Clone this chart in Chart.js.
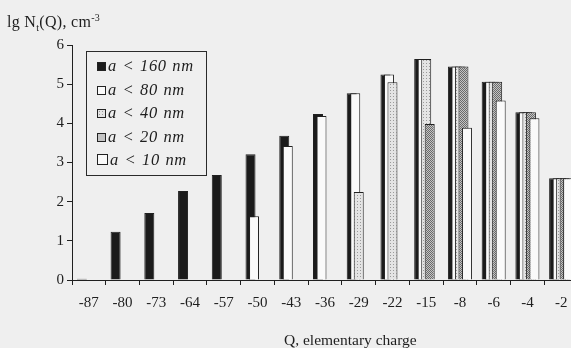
<!DOCTYPE html>
<html>
<head>
<meta charset="utf-8">
<script src="https://cdn.jsdelivr.net/npm/chart.js@4/dist/chart.umd.min.js"></script>
<style>
  html, body { margin: 0; padding: 0; background: #efefef; overflow: hidden; width: 571px; height: 348px; }
  #wrap { position: relative; width: 571px; height: 348px; overflow: hidden; }
  canvas { position: absolute; left: 0; top: 0; }
  .txt { position: absolute; font-family: 'Liberation Serif', 'Times New Roman', serif; color: #1e1e1e; white-space: nowrap; }
  #ytitle { left: 7px; top: 13px; font-size: 16px; line-height: 17px; letter-spacing: 0.3px; }
  #ytitle sup { font-size: 10px; position: relative; top: -4px; vertical-align: top; }
  #ytitle sub { font-size: 10px; }
  #xtitle { left: 284px; top: 331px; font-size: 15.5px; line-height: 17px; }
  #legend { position: absolute; left: 86px; top: 51px; width: 119px; height: 123px; border: 1px solid #2a2a2a; }
  .row { position: absolute; left: 10px; height: 20px; line-height: 20px; font-family: 'Liberation Serif', 'Times New Roman', serif; font-style: italic; font-size: 16.5px; word-spacing: 1px; letter-spacing: 0.6px; color: #1e1e1e; white-space: nowrap; }
  .sw { display: inline-block; width: 9px; height: 9px; border: 1px solid #222; box-sizing: border-box; margin-right: 2px; vertical-align: 0px; }
</style>
</head>
<body>
<div id="wrap">
  <canvas id="c" width="578" height="348" style="width:578px;height:348px"></canvas>
  <div id="ytitle" class="txt">lg N<sub>t</sub>(Q), cm<sup>-3</sup></div>
  <div id="xtitle" class="txt">Q, elementary charge</div>
  <div id="legend"></div>
</div>
<script>
// ---- data ----
const categories = ['-87','-80','-73','-64','-57','-50','-43','-36','-29','-22','-15','-8','-6','-4','-2'];
const seriesNames = ['a < 160 nm','a < 80 nm','a < 40 nm','a < 20 nm','a < 10 nm'];
const s160 = [0.03, 1.23, 1.71, 2.27, 2.68, 3.21, 3.68, 4.24, 4.77, 5.25, 5.64, 5.45, 5.06, 4.28, 2.6];
const s80  = [0, 0, 0, 0, 0, 1.63, 3.42, 4.19, 4.77, 5.25, 5.64, 5.45, 5.06, 4.28, 2.6];
const s40  = [0, 0, 0, 0, 0, 0, 0, 0, 2.25, 5.05, 5.64, 5.45, 5.06, 4.28, 2.6];
const s20  = [0, 0, 0, 0, 0, 0, 0, 0, 0, 0, 3.98, 5.45, 5.06, 4.28, 2.6];
const s10  = [0, 0, 0, 0, 0, 0, 0, 0, 0, 0, 0, 3.89, 4.58, 4.13, 2.6];
const yTicks = [0, 1, 2, 3, 4, 5, 6];

// ---- styles ----
function pattern(bg, dot, size, cells) {
  const c = document.createElement('canvas');
  c.width = c.height = size;
  const x = c.getContext('2d');
  x.fillStyle = bg; x.fillRect(0, 0, size, size);
  x.fillStyle = dot;
  cells.forEach(p => x.fillRect(p[0], p[1], 1, 1));
  return c;
}
const pLight = pattern('#e4e4e4', '#9a9a9a', 3, [[0,0]]);
const pDark = pattern('#c4c4c4', '#6a6a6a', 2, [[0,0],[1,1]]);
const ctx = document.getElementById('c').getContext('2d');
const fills = [
  '#1b1b1b',
  '#fafafa',
  ctx.createPattern(pLight, 'repeat'),
  ctx.createPattern(pDark, 'repeat'),
  '#fafafa'
];
const values = [s160, s80, s40, s20, s10];

const FONT = "'Liberation Serif', 'Times New Roman', serif";

const drawOrder = {
  id: 'drawOrder',
  beforeDatasetsDraw(chart) {
    const a = chart.chartArea, c = chart.ctx;
    c.save();
    c.beginPath();
    c.rect(a.left - 2, a.top - 2, a.right - a.left + 4, a.bottom - a.top + 2);
    c.clip();
    chart.getSortedVisibleDatasetMetas().forEach(m => m.controller.draw());
    c.restore();
    return false;
  }
};

new Chart(ctx, {
  type: 'bar',
  data: {
    labels: categories,
    datasets: values.map((v, i) => ({
      label: seriesNames[i],
      data: v,
      backgroundColor: fills[i],
      borderColor: '#202020',
      borderWidth: 1,
      categoryPercentage: 0.52,
      barPercentage: 2.85
    }))
  },
  options: {
    responsive: false,
    devicePixelRatio: 1,
    animation: false,
    layout: { padding: { left: 0, right: 0, top: 45, bottom: 0 } },
    plugins: { legend: { display: false }, tooltip: { enabled: false } },
    scales: {
      x: {
        offset: true,
        grid: { display: true, drawOnChartArea: false, drawTicks: true, tickLength: 5, color: '#202020', offset: true },
        border: { display: true, color: '#202020', width: 1 },
        ticks: { autoSkip: false, maxRotation: 0, minRotation: 0, padding: 9, color: '#1e1e1e', font: { family: FONT, size: 15 } },
        afterFit: s => { s.height = 68; }
      },
      y: {
        min: 0, max: 6,
        afterBuildTicks: s => { s.ticks = yTicks.map(v => ({ value: v })); },
        grid: { display: true, drawOnChartArea: false, drawTicks: true, tickLength: 5, color: '#202020' },
        border: { display: true, color: '#202020', width: 1 },
        ticks: { padding: 3, color: '#1e1e1e', font: { family: FONT, size: 15 } },
        afterFit: s => { s.width = 72; }
      }
    }
  },
  plugins: [drawOrder]
});

// ---- legend (HTML) ----
const swStyles = [
  'background:#1b1b1b;',
  'background:#fafafa;',
  'background-color:#e4e4e4;background-image:radial-gradient(#9a9a9a 35%, transparent 36%);background-size:3px 3px;',
  'background-color:#c4c4c4;background-image:radial-gradient(#6a6a6a 35%, transparent 36%);background-size:2px 2px;',
  'background:#fafafa;width:11px;height:11px;'
];
const rowTops = [4, 28, 51, 75, 98];
const leg = document.getElementById('legend');
seriesNames.forEach((n, i) => {
  const r = document.createElement('div');
  r.className = 'row';
  r.style.top = rowTops[i] + 'px';
  r.innerHTML = '<span class="sw" style="' + swStyles[i] + '"></span>' + n;
  leg.appendChild(r);
});
</script>
</body>
</html>
